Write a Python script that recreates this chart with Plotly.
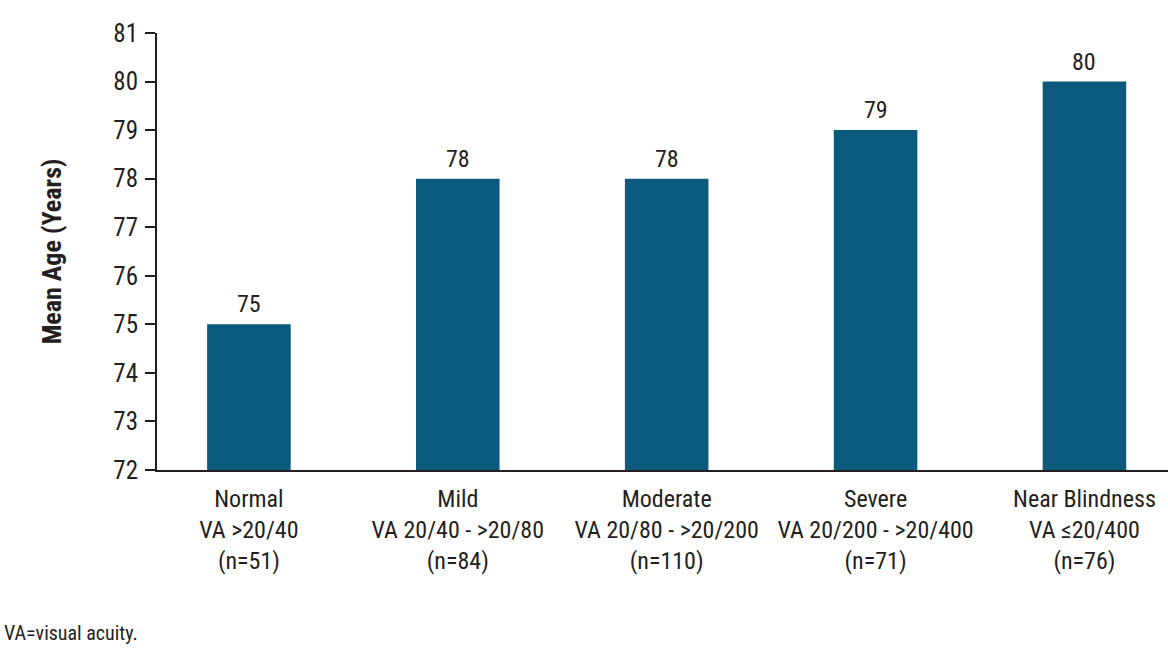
import plotly.graph_objects as go

categories = ["Normal<br>VA >20/40<br>(n=51)",
              "Mild<br>VA 20/40 - >20/80<br>(n=84)",
              "Moderate<br>VA 20/80 - >20/200<br>(n=110)",
              "Severe<br>VA 20/200 - >20/400<br>(n=71)",
              "Near Blindness<br>VA ≤20/400<br>(n=76)"]
mean_age = [75, 78, 78, 79, 80]
y_ticks = [72, 73, 74, 75, 76, 77, 78, 79, 80, 81]

FONT = "Liberation Sans Narrow, Roboto Condensed, DejaVu Sans Condensed, Liberation Sans, sans-serif"
TXT = "#231f20"
BAR = "#0b5a7d"

fig = go.Figure()
fig.add_trace(go.Bar(
    x=categories, y=mean_age,
    marker=dict(color=BAR, line=dict(width=0)),
    width=0.4, cliponaxis=False, hoverinfo="skip",
))

for c, v in zip(categories, mean_age):
    fig.add_annotation(x=c, y=v, text=str(v), showarrow=False,
                       yanchor="bottom", yshift=4,
                       font=dict(family=FONT, size=24, color=TXT))

fig.add_annotation(xref="paper", yref="paper", x=-155/1011, y=-0.372,
                   xanchor="left", yanchor="middle", showarrow=False,
                   text="VA=visual acuity.",
                   font=dict(family=FONT, size=20, color=TXT))

fig.update_layout(
    width=1168, height=648,
    margin=dict(l=157, r=0, t=33, b=178),
    paper_bgcolor="white", plot_bgcolor="white",
    showlegend=False,
    font=dict(family=FONT, color=TXT),
)
fig.update_xaxes(
    type="category", range=[-0.44, 4.4],
    showline=True, linecolor=TXT, linewidth=2,
    ticks="", showgrid=False, zeroline=False,
    ticklabelstandoff=6,
    tickfont=dict(family=FONT, size=24, color=TXT),
)
fig.update_yaxes(
    range=[72, 81], tickvals=y_ticks,
    showline=True, linecolor=TXT, linewidth=2,
    ticks="outside", ticklen=10, tickwidth=2, tickcolor=TXT,
    ticklabelstandoff=2,
    showgrid=False, zeroline=False,
    tickfont=dict(family=FONT, size=25, color=TXT),
    title=dict(text="<b>Mean Age (Years)</b>", standoff=44,
               font=dict(family=FONT, size=26, color=TXT)),
)

fig.write_html("out.html")
